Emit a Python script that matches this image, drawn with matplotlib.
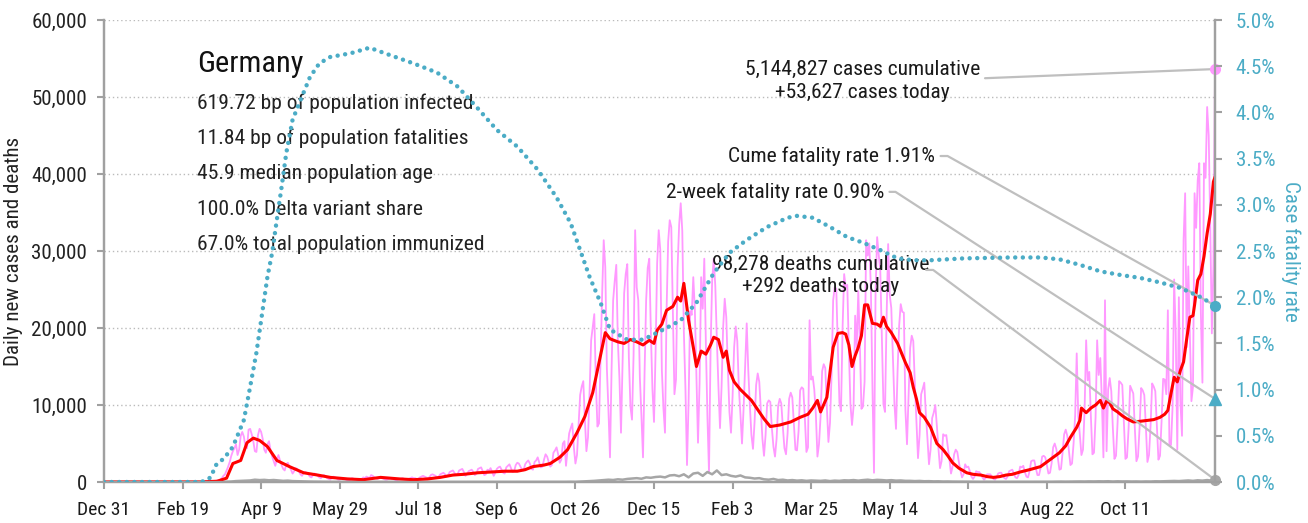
import numpy as np
import matplotlib
matplotlib.use("Agg")
import matplotlib.pyplot as plt
from matplotlib import font_manager
from matplotlib.ticker import FuncFormatter, MultipleLocator

# pick a narrow face if the box has one, else an Arial-like one
names = {f.name for f in font_manager.fontManager.ttflist}
if 'Roboto Condensed' in names:
    FONT, K = 'Roboto Condensed', 1.12
elif 'Liberation Sans Narrow' in names:
    FONT, K = 'Liberation Sans Narrow', 1.18
else:
    FONT, K = 'Liberation Sans', 1.0
plt.rcParams['font.family'] = [FONT, 'DejaVu Sans']

# ===== DATA (thousands unless noted) =====
tick_days = [0, 50, 100, 150, 200, 250, 300, 350, 400, 450, 500, 550, 600, 650]
tick_labels = ["Dec 31", "Feb 19", "Apr 9", "May 29", "Jul 18", "Sep 6", "Oct 26",
               "Dec 15", "Feb 3", "Mar 25", "May 14", "Jul 3", "Aug 22", "Oct 11"]

# daily new cases, one value per day from Dec 31
cases_k = ([0.0] * 56 +
    [0, 0, 0, 0, 0, 0, 0, 0, 0.1, 0.1, 0.1, 0.1, 0.2, 0.1] +
    [0.1, 0.1, 0.2, 0.2, 0.3, 0.5, 0.8, 1.0, 1.5, 2.0, 2.6, 3.4, 4.0, 4.4] +
    [4.9, 3.5, 4.2, 6.0, 6.5, 5.9, 4.6, 4.4, 6.8, 6.9, 6.2, 5.3, 4.0, 3.9] +
    [6.1, 6.9, 6.5, 5.6, 4.2, 3.8, 4.9, 5.3, 4.1, 3.3, 2.7, 2.1, 2.9, 3.5] +
    [2.8, 2.2, 1.7, 1.5, 2.3, 2.5, 2.0, 1.6, 1.1, 1.4, 1.8, 1.7, 1.4, 1.0] +
    [0.8, 1.2, 1.3, 1.2, 1.0, 0.7, 0.6, 0.9, 1.1, 1.0, 0.8, 0.6, 0.5, 0.8] +
    [0.9, 0.7, 0.5, 0.4, 0.3, 0.6, 0.7, 0.6, 0.5, 0.3, 0.3, 0.5, 0.5, 0.4] +
    [0.3, 0.2, 0.2, 0.4, 0.5, 0.4, 0.4, 0.3, 0.2, 0.3, 0.4, 0.6, 0.5, 0.7] +
    [0.6, 0.5, 0.9, 0.8, 0.6, 0.5, 0.4, 0.5, 0.6, 0.5, 0.4, 0.3, 0.3, 0.4] +
    [0.5, 0.4, 0.4, 0.3, 0.2, 0.3, 0.4, 0.4, 0.5, 0.4, 0.3, 0.3, 0.4, 0.5] +
    [0.6, 0.5, 0.5, 0.4, 0.4, 0.6, 0.7, 0.8, 0.7, 0.6, 0.5, 0.6, 0.9, 1.0] +
    [0.9, 0.8, 0.6, 0.7, 1.0, 1.1, 1.2, 1.0, 0.7, 0.9, 1.3, 1.4, 1.5, 1.2] +
    [0.9, 1.0, 1.5, 1.6, 1.7, 1.3, 0.8, 1.0, 1.4, 1.5, 1.6, 1.3, 0.9, 1.1] +
    [1.7, 1.8, 1.9, 1.4, 0.9, 1.0, 1.6, 1.5, 1.8, 1.3, 0.8, 1.2, 1.7, 1.9] +
    [2.0, 1.6, 1.2, 1.1, 1.9, 2.1, 2.3, 1.8, 1.3, 1.4, 2.2, 2.5, 2.4, 2.0] +
    [1.6, 1.5, 2.3, 2.6, 2.8, 2.4, 1.7, 1.6, 2.6, 2.8, 3.2, 2.5, 1.9, 2.0] +
    [2.9, 3.6, 3.3, 2.6, 2.0, 2.2, 3.8, 4.1, 4.5, 3.6, 2.5, 2.9, 5.0, 5.3] +
    [2.1, 4.2, 6.3, 7.0, 7.6, 4.5, 2.4] +
    [3.5, 7.4, 11.3, 12.4, 13.1, 8.2, 4.0] +
    [5.8, 11.7, 18.4, 20.1, 21.8, 13.0, 7.2] +
    [7.6, 15.9, 24.4, 31.4, 27.9, 14.8, 9.4] +
    [3.2, 14.6, 23.6, 26.1, 28.2, 18.3, 13.5] +
    [6.4, 15.2, 24.5, 27.0, 28.3, 16.2, 9.8] +
    [8.1, 16.5, 32.7, 25.3, 23.6, 13.6, 8.6] +
    [3.2, 14.2, 23.6, 27.8, 29.0, 19.5, 12.1] +
    [7.8, 16.9, 28.4, 32.7, 30.1, 14.5, 9.6] +
    [6.4, 22.3, 31.2, 34.0, 33.1, 22.6, 11.4] +
    [13.3, 27.8, 33.4, 36.2, 32.6, 19.5, 12.2] +
    [2.2, 10.3, 22.2, 21.7, 26.6, 22.4, 13.6] +
    [5.1, 12.8, 26.6, 22.5, 29.0, 18.1, 8.5] +
    [1.2, 17.1, 26.1, 29.0, 25.5, 18.5, 12.4] +
    [7.0, 12.4, 20.1, 23.8, 21.4, 14.7, 9.1] +
    [6.4, 11.1, 17.5, 20.2, 18.3, 12.2, 8.8] +
    [5.0, 9.5, 15.0, 20.6, 14.5, 9.9, 6.1] +
    [4.3, 7.8, 12.6, 14.1, 13.0, 9.2, 5.6] +
    [3.4, 6.1, 10.2, 10.6, 10.4, 7.0, 4.6] +
    [3.3, 5.6, 9.9, 10.8, 10.2, 7.1, 4.4] +
    [3.6, 6.3, 10.8, 11.6, 11.0, 7.5, 4.2] +
    [4.1, 6.6, 11.9, 12.3, 12.1, 8.3, 3.9] +
    [4.5, 21.0, 13.3, 13.7, 12.0, 8.8, 3.3] +
    [4.9, 8.5, 14.4, 15.3, 14.8, 9.7, 5.2] +
    [7.7, 13.9, 23.6, 25.3, 25.1, 17.4, 10.3] +
    [9.2, 20.0, 27.0, 25.3, 25.6, 17.2, 10.1] +
    [7.4, 9.8, 21.6, 17.5, 24.8, 17.9, 9.5] +
    [9.8, 13.0, 31.4, 29.4, 31.0, 25.3, 12.5] +
    [1.2, 24.8, 31.8, 29.5, 27.5, 18.9, 10.1] +
    [9.1, 21.2, 30.9, 24.3, 22.6, 16.5, 10.2] +
    [6.9, 14.4, 20.3, 23.1, 22.1, 22.0, 9.3] +
    [4.9, 11.0, 17.4, 19.0, 18.3, 12.7, 7.9] +
    [3.1, 6.1, 11.4, 12.1, 12.9, 8.8, 5.7] +
    [2.3, 4.2, 8.3, 9.0, 10.0, 7.3, 4.4] +
    [1.8, 2.7, 6.2, 6.0, 6.1, 4.5, 2.9] +
    [1.1, 2.0, 3.6, 4.2, 3.9, 2.6, 1.5] +
    [0.6, 1.0, 2.3, 1.9, 2.0, 1.4, 0.7] +
    [0.4, 0.7, 1.4, 1.3, 1.3, 1.0, 0.6] +
    [0.3, 0.5, 1.0, 1.0, 1.0, 0.7, 0.4] +
    [0.3, 0.6, 1.1, 1.2, 1.2, 0.8, 0.5] +
    [0.4, 0.7, 1.4, 1.5, 1.6, 1.1, 0.6] +
    [0.5, 0.9, 2.0, 1.9, 2.1, 1.3, 0.7] +
    [0.6, 1.4, 2.7, 2.8, 2.8, 1.8, 0.9] +
    [0.9, 1.8, 3.3, 3.4, 3.2, 2.2, 1.1] +
    [1.2, 2.4, 4.5, 5.0, 4.3, 3.1, 1.6] +
    [1.7, 3.8, 6.2, 6.8, 6.0, 4.1, 2.2] +
    [2.4, 5.0, 8.6, 16.7, 8.5, 6.1, 3.5] +
    [4.2, 9.3, 18.4, 13.2, 14.3, 8.6, 3.6] +
    [3.8, 8.4, 18.4, 13.9, 16.1, 10.7, 3.2] +
    [23.6, 4.0, 12.0, 13.5, 11.8, 7.0, 3.0] +
    [3.4, 7.7, 13.1, 12.9, 12.6, 7.9, 3.0] +
    [3.2, 6.9, 12.5, 12.0, 11.5, 6.9, 2.7] +
    [3.3, 7.0, 12.2, 11.9, 11.3, 7.2, 2.6] +
    [3.5, 7.3, 12.8, 12.4, 11.8, 7.5, 2.9] +
    [3.4, 7.9, 13.4, 13.3, 11.4, 22.3, 4.8] +
    [4.8, 9.8, 26.3, 19.5, 4.2, 24.0, 10.4] +
    [6.0, 31.4, 37.5, 17.5, 28.0, 19.4, 10.5] +
    [12.4, 37.5, 33.0, 39.2, 41.4, 22.0, 12.9] +
    [41.4, 39.5, 48.7, 45.0, 33.0, 19.3, 28.0, 53.627])

# 7-day average of cases (day, value)
avg_days = [0, 61, 72, 78, 82, 87, 91, 95, 99, 104, 110, 118, 127, 136, 144, 155, 165, 176,
            188, 197, 206, 214, 222, 229, 238, 246, 255, 263, 268, 273, 280, 284, 290, 295,
            301, 306, 311, 315, 319, 322, 327, 331, 335, 339, 343, 347, 350, 352, 355, 358,
            362, 365, 367, 369, 372, 375, 377, 380, 383, 386, 388, 391, 394, 396, 398, 401,
            405, 409, 412, 416, 420, 424, 430, 437, 443, 448, 451, 454, 456, 460, 464, 467,
            470, 472, 474, 476, 478, 480, 482, 484, 486, 489, 492, 494, 496, 498, 501, 505,
            508, 510, 513, 515, 517, 519, 522, 526, 530, 534, 537, 540, 544, 549, 553, 558,
            562, 566, 570, 574, 578, 583, 589, 596, 602, 608, 612, 615, 619, 621, 622, 625,
            628, 631, 634, 636, 638, 640, 642, 645, 648, 651, 655, 660, 664, 668, 672, 675,
            677, 679, 681, 683, 685, 687, 689, 691, 693, 694, 696, 698, 700, 702, 704, 706, 707]
avg_k = [0, 0, 0.1, 0.5, 2.4, 2.8, 5.1, 5.7, 5.4, 4.6, 2.8, 2.0, 1.2, 0.9, 0.6, 0.4, 0.3, 0.6,
         0.4, 0.3, 0.4, 0.6, 0.9, 1.0, 1.2, 1.3, 1.4, 1.4, 1.6, 2.0, 2.2, 2.4, 3.2, 4.2,
         6.4, 8.5, 11.6, 15.5, 19.4, 18.6, 18.2, 18.0, 18.5, 18.2, 17.8, 18.4, 18.0, 19.7, 20.5, 22.3,
         22.8, 24.0, 23.5, 25.8, 21.0, 17.5, 15.0, 17.0, 16.6, 17.8, 18.8, 18.5, 16.2, 17.0, 14.5, 13.0,
         12.0, 11.2, 10.6, 9.4, 8.2, 7.2, 7.4, 7.8, 8.4, 8.8, 9.6, 10.6, 9.1, 11.0, 17.5, 19.3,
         19.4, 19.2, 17.8, 15.0, 16.4, 17.5, 19.0, 23.0, 23.0, 20.6, 20.5, 20.2, 21.4, 20.2, 19.4, 18.0,
         16.5, 15.5, 14.2, 12.3, 10.8, 9.0, 8.4, 7.1, 5.0, 4.2, 3.4, 2.5, 1.8, 1.2, 1.0, 0.9,
         0.7, 0.6, 0.7, 0.9, 1.0, 1.3, 1.6, 2.0, 2.9, 3.8, 4.7, 5.8, 7.1, 8.0, 9.6, 9.0,
         9.6, 10.0, 10.6, 9.6, 10.5, 10.3, 9.5, 9.1, 8.6, 8.2, 7.8, 7.9, 8.0, 8.1, 8.4, 8.8,
         9.3, 11.5, 13.6, 13.0, 14.5, 15.6, 18.6, 21.4, 21.6, 23.0, 26.2, 27.0, 29.3, 32.3, 34.8, 39.0, 39.6]

# daily deaths, every third day from Dec 31, then the last day
deaths_k = ([0.0] * 24 +
    [0.0, 0.01, 0.03, 0.06, 0.12, 0.15, 0.17] +
    [0.2, 0.3, 0.25, 0.28, 0.22, 0.26, 0.2, 0.15, 0.18, 0.12] +
    [0.1, 0.08, 0.06, 0.05, 0.04, 0.03, 0.03, 0.02, 0.02, 0.01] +
    [0.01, 0.02, 0.01, 0.01, 0.02, 0.01, 0.01, 0.01, 0.02, 0.01,
     0.01, 0.01, 0.0, 0.01, 0.01, 0.01, 0.0, 0.01, 0.01, 0.01,
     0.01, 0.0, 0.01, 0.01, 0.01, 0.01, 0.01, 0.0, 0.01, 0.01,
     0.01, 0.01, 0.01, 0.01, 0.01, 0.02, 0.01, 0.01, 0.01, 0.02,
     0.01, 0.01, 0.02, 0.01, 0.02, 0.02, 0.01, 0.02, 0.03, 0.02] +
    [0.05, 0.08, 0.1, 0.15, 0.2, 0.25, 0.3, 0.26, 0.35, 0.3] +
    [0.4, 0.45, 0.5, 0.42, 0.6, 0.55, 0.65, 0.7, 0.6, 0.85] +
    [0.9, 0.75, 1.0, 0.6, 1.1, 1.2, 0.8, 1.3, 1.0, 1.5] +
    [0.9, 1.0, 0.8, 0.7, 0.85, 0.6, 0.55, 0.45, 0.5, 0.35] +
    [0.3, 0.4, 0.25, 0.3, 0.2, 0.25, 0.18, 0.22, 0.15, 0.2] +
    [0.18, 0.15, 0.2, 0.12, 0.18, 0.15, 0.22, 0.2, 0.25, 0.18] +
    [0.25, 0.3, 0.22, 0.28, 0.25, 0.2, 0.24, 0.18, 0.2, 0.15] +
    [0.15, 0.12, 0.14, 0.1, 0.11, 0.08, 0.09, 0.06, 0.07, 0.05] +
    [0.05, 0.04, 0.04, 0.03, 0.03, 0.02, 0.03, 0.02, 0.02, 0.02] +
    [0.02, 0.02, 0.01, 0.02, 0.02, 0.02, 0.03, 0.02, 0.03, 0.03] +
    [0.03, 0.04, 0.05, 0.04, 0.05, 0.06, 0.07, 0.06, 0.08, 0.07] +
    [0.09, 0.08, 0.1, 0.06, 0.09, 0.07, 0.08, 0.06, 0.07, 0.05] +
    [0.07, 0.06, 0.09, 0.08, 0.1, 0.12, 0.14, 0.12, 0.16, 0.2, 0.15, 0.22, 0.18, 0.25, 0.17] +
    [0.292])

# cumulative case fatality rate, percent (day, value)
cfr_days = [0, 62, 68, 71, 74, 77, 82, 89, 93, 97, 100, 104, 107, 110, 113, 116, 120, 125, 131,
            137, 144, 157, 169, 182, 197, 212, 225, 237, 250, 263, 276, 288, 297, 303, 309,
            316, 322, 333, 343, 356, 367, 377, 388, 398, 409, 422, 435, 441, 451, 462, 473,
            483, 494, 505, 515, 526, 547, 577, 596, 608, 621, 634, 647, 659, 672, 685, 698, 707]
cfr_pct = [0, 0, 0.05, 0.18, 0.22, 0.27, 0.38, 0.67, 1.03, 1.40, 1.75, 2.22, 2.48, 2.84, 3.19, 3.56, 3.92, 4.13, 4.38,
           4.53, 4.60, 4.64, 4.70, 4.62, 4.53, 4.43, 4.28, 4.06, 3.81, 3.63, 3.38, 3.08, 2.80, 2.51, 2.22,
           1.94, 1.65, 1.54, 1.54, 1.65, 1.75, 1.94, 2.26, 2.48, 2.62, 2.76, 2.86, 2.88, 2.86, 2.76, 2.65,
           2.59, 2.51, 2.42, 2.40, 2.40, 2.42, 2.43, 2.43, 2.41, 2.35, 2.28, 2.24, 2.21, 2.16, 2.10, 2.00, 1.91]

cases_cum = 5144827
cases_today = 53627
deaths_cum = 98278
deaths_today = 292
cfr_cume = 1.91
cfr_2wk = 0.90

stats = ["619.72 bp of population infected",
         "11.84 bp of population fatalities",
         "45.9 median population age",
         "100.0% Delta variant share",
         "67.0% total population immunized"]

# ===== PLOT =====
PINK = "#FF99FF"
RED = "#FF0000"
GREY = "#A6A6A6"
TEAL = "#4BACC6"
SPINE = "#A0A0A0"
INK = "#1A1A1A"

cases = np.array(cases_k) * 1000
days = np.arange(len(cases))
last = days[-1]
death_days = list(range(0, 706, 3)) + [last]
deaths = np.array(deaths_k) * 1000

fig = plt.figure(figsize=(13.08, 5.23), dpi=100)
ax = fig.add_axes([104 / 1308, 41 / 523, 1111 / 1308, 462 / 523])
ax2 = ax.twinx()

ax.plot(days, cases, color=PINK, lw=1.3, zorder=2)
ax.plot(avg_days, np.array(avg_k) * 1000, color=RED, lw=2.2, zorder=3)
ax.plot(death_days, deaths, color=GREY, lw=1.8, zorder=2)
ax2.plot(cfr_days, cfr_pct, color=TEAL, lw=3.2, linestyle=(0, (0.01, 1.7)),
         dash_capstyle='round', zorder=3)

ax.set_xlim(0, last)
ax.set_ylim(0, 60000)
ax2.set_ylim(0, 5)

ax.set_xticks(tick_days)
ax.set_xticklabels(tick_labels)
ax.yaxis.set_major_locator(MultipleLocator(10000))
ax.yaxis.set_major_formatter(FuncFormatter(lambda v, p: f"{int(v):,}"))
ax2.yaxis.set_major_locator(MultipleLocator(0.5))
ax2.yaxis.set_major_formatter(FuncFormatter(lambda v, p: f"{v:.1f}%"))

ax.grid(axis='y', color="#BBBBBB", linestyle=(0, (1, 2)), lw=1)
ax.set_axisbelow(True)

for a in (ax, ax2):
    a.spines['top'].set_visible(False)
    for s in ('left', 'right', 'bottom'):
        a.spines[s].set_color(SPINE)
        a.spines[s].set_linewidth(1.6)
ax.tick_params(axis='both', colors=SPINE, length=5, width=1.5)
ax.tick_params(axis='x', labelcolor=INK, labelsize=12.5 * K, pad=9)
ax.tick_params(axis='y', labelcolor="#222222", labelsize=13.5 * K, pad=7)
ax2.tick_params(axis='y', colors=SPINE, length=5, width=1.5, labelsize=13.5 * K,
                labelcolor=TEAL, pad=10)

ax.set_ylabel("Daily new cases and deaths", fontsize=13.5 * K, color="#222222", labelpad=6)
ax2.set_ylabel("Case fatality rate", fontsize=13.5 * K, color=TEAL, rotation=270, labelpad=18)

# end markers
ax.plot([last], [cases_today], 'o', color=PINK, ms=7, clip_on=False, zorder=6)
ax.plot([last], [deaths_today], 'o', color=GREY, ms=7, clip_on=False, zorder=6)
ax2.plot([last], [cfr_cume], 'o', color=TEAL, ms=7, clip_on=False, zorder=6)
ax2.plot([last], [cfr_2wk], '^', color=TEAL, ms=8, clip_on=False, zorder=6)

# country block
ax.text(0.0835, 0.905, "Germany", transform=ax.transAxes, fontsize=19.5 * K,
        ha='left', va='center', color="#111111")
for i, s in enumerate(stats):
    ax.text(0.0835, 0.820 - i * 0.0765, s, transform=ax.transAxes, fontsize=13.8 * K,
            ha='left', va='center', color="#222222")

# callouts
TXT = 13.8 * K
ax.text(0.683, 0.868, f"{cases_cum:,} cases cumulative\n+{cases_today:,} cases today",
        transform=ax.transAxes, fontsize=TXT, ha='center', va='center',
        linespacing=1.25, color=INK)
ax.text(0.748, 0.7056, f"Cume fatality rate {cfr_cume:.2f}%", transform=ax.transAxes,
        fontsize=TXT, ha='right', va='center', color=INK)
ax.text(0.702, 0.628, f"2-week fatality rate {cfr_2wk:.2f}%", transform=ax.transAxes,
        fontsize=TXT, ha='right', va='center', color=INK)
ax.text(0.645, 0.447, f"{deaths_cum:,} deaths cumulative\n+{deaths_today} deaths today",
        transform=ax.transAxes, fontsize=TXT, ha='center', va='center',
        linespacing=1.25, color=INK)


def connector(start, target, coords, arm):
    ax.annotate("", xy=target, xycoords=coords, xytext=start, textcoords=ax.transAxes,
                arrowprops=dict(arrowstyle='-', color="#BFBFBF", lw=1.6, shrinkA=0, shrinkB=0,
                                connectionstyle=f"arc,angleA=0,armA={arm},angleB=0,armB=0,rad=0"),
                zorder=5)


connector((0.793, 0.874), (last, cases_today), ax.transData, 0)
connector((0.753, 0.7056), (last, cfr_cume), ax2.transData, 7)
connector((0.707, 0.628), (last, cfr_2wk), ax2.transData, 6)
connector((0.740, 0.459), (last, deaths_today), ax.transData, 7)

fig.savefig("out.png", dpi=100)
